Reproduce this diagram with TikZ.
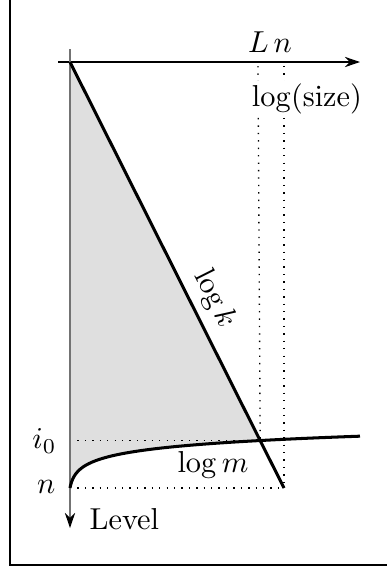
\documentclass[tikz,border=0pt]{standalone}
\usetikzlibrary{arrows.meta,intersections}
\begin{document}
\begin{tikzpicture}[x=0.33pt,y=-0.33pt,
  axis/.style={line width=0.4pt,-{Stealth[length=5pt,width=3.4pt,black]}},
  guide/.style={dotted,line width=0.45pt},
  heavy/.style={line width=1pt},
  lbl/.style={inner sep=1pt}]
\useasboundingbox (0,0) rectangle (387,570);
% frame
\draw[line width=0.7pt] (10,-20) -- (10,565) -- (420,565);
% coordinates
\coordinate (O) at (70,62);
\coordinate (K) at (284,488);
\coordinate (N) at (70,488);
\coordinate (Xs) at (58,62);
\coordinate (Xe) at (360,62);
\coordinate (Ys) at (70,49);
\coordinate (Ye) at (70,528);
\coordinate (I) at (260.2,440.5);
\coordinate (Dl) at (258,66);
\coordinate (Dr) at (284,66);
% fill
\fill[gray!25] (O) -- (I) -- plot[domain=13.79:0,samples=80,variable=\t] ({70+\t*\t},{488-10.4*ln(1+\t*\t/2)}) -- cycle;
% dotted guides
\draw[guide] (Dl) -- (I);
\draw[guide] (Dr) -- (K);
\draw[guide] (N) -- (K);
\draw[guide] (O |- I) -- (I);
% axes
\draw[axis] (Xs) -- (Xe);
\draw[axis,black!55] (Ys) -- (Ye);
% log k line
\draw[heavy] (O) -- node[inner sep=2.5pt,pos=0.58,sloped,above] {$\log k$} (K);
% log m curve
\draw[heavy] plot[domain=0:17.03,samples=100,variable=\t] ({70+\t*\t},{488-10.4*ln(1+\t*\t/2)});
% labels
\node (Ln) at (270,42) {$L\,n$};
\node[fill=white,inner sep=1pt] (size) at (307,99) {$\log(\mathrm{size})$};
\node (lm) at (213,465) {$\log m$};
\node[anchor=east,inner sep=1pt] (i0) at (60,441) {$i_0$};
\node[anchor=east,inner sep=1pt] (nn) at (59,487) {$n$};
\node[anchor=west,inner sep=1pt] (lev) at (86,519) {Level};
\end{tikzpicture}
\end{document}
